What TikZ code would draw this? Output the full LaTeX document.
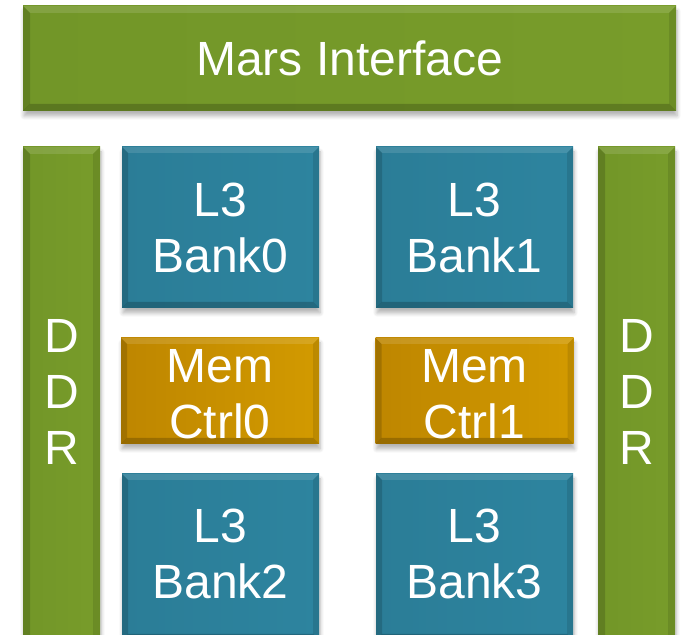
\documentclass[tikz,border=0pt]{standalone}
\usepackage{fontspec}
\setmainfont{Liberation Sans}
\usetikzlibrary{calc,shadows.blur}

\definecolor{gdark}{HTML}{729628}
\definecolor{gmid}{HTML}{86AE2B}
\definecolor{gedge}{HTML}{789C2A}
\definecolor{tdark}{HTML}{2B7D97}
\definecolor{tmid}{HTML}{2F94AF}
\definecolor{tedge}{HTML}{2D849F}
\definecolor{odark}{HTML}{BE8600}
\definecolor{omid}{HTML}{C38A00}
\definecolor{oedge}{HTML}{D29A00}

\tikzset{
  tile/.style={draw=none, inner sep=0pt, outer sep=0pt, shading=axis,
    blur shadow={shadow xshift=1pt, shadow yshift=-5pt,
      shadow blur radius=4pt, shadow blur steps=6, shadow opacity=30}},
  greenbar/.style={tile, left color=gdark, middle color=gmid, right color=gedge},
  tealbox/.style={tile, left color=tdark, middle color=tmid, right color=tedge},
  ochrebox/.style={tile, left color=odark, middle color=omid, right color=oedge},
  caption/.style={text=white, align=center, inner sep=0pt,
    font=\fontsize{48}{56}\selectfont},
}

% bevelled rim of a tile: lit top edge, shaded sides and bottom
\newcommand\bevelrim[2]{%
  \fill[white,opacity=.12] (#1.north west) -- (#1.north east) -- ++(-#2,-#2)
    -- ($(#1.north west)+(#2,-#2)$) -- cycle;
  \fill[black,opacity=.15] (#1.north west) -- (#1.south west) -- ++(#2,#2)
    -- ($(#1.north west)+(#2,-#2)$) -- cycle;
  \fill[black,opacity=.10] (#1.north east) -- (#1.south east) -- ++(-#2,#2)
    -- ($(#1.north east)+(-#2,-#2)$) -- cycle;
  \fill[black,opacity=.20] (#1.south west) -- (#1.south east) -- ++(-#2,#2)
    -- ($(#1.south west)+(#2,#2)$) -- cycle;
}

\begin{document}
\begin{tikzpicture}[x=1pt,y=1pt]
  \useasboundingbox (0,0) rectangle (681,635);
  \clip (0,0) rectangle (681,635);

  % tiles
  \node[greenbar, minimum width=653pt, minimum height=105pt] (mars) at (349.5,576.5) {};
  \node[greenbar, minimum width=77pt, minimum height=503pt] (ddrL) at (61.5,236.5) {};
  \node[greenbar, minimum width=77pt, minimum height=503pt] (ddrR) at (636.5,236.5) {};
  \node[tealbox, minimum width=197pt, minimum height=161pt] (bank0) at (220.5,407.5) {};
  \node[tealbox, minimum width=197pt, minimum height=161pt] (bank1) at (474.5,407.5) {};
  \node[ochrebox, minimum width=198pt, minimum height=106pt] (ctrl0) at (220,244) {};
  \node[ochrebox, minimum width=198pt, minimum height=106pt] (ctrl1) at (474.5,244) {};
  \node[tealbox, minimum width=197pt, minimum height=166pt] (bank2) at (220.5,78) {};
  \node[tealbox, minimum width=197pt, minimum height=166pt] (bank3) at (474.5,78) {};

  \foreach \t in {mars,ddrL,ddrR} {\bevelrim{\t}{7}}
  \foreach \t in {bank0,bank1,bank2,bank3,ctrl0,ctrl1} {\bevelrim{\t}{6}}

  % labels
  \node[caption] (marsT) at (mars.center) {Mars Interface};
  \node[caption] (ddrLT) at (61.5,243) {D\\D\\R};
  \node[caption] (ddrRT) at (636.5,243) {D\\D\\R};
  \node[caption] (bank0T) at (bank0.center) {L3\\Bank0};
  \node[caption] (bank1T) at (bank1.center) {L3\\Bank1};
  \node[caption] (ctrl0T) at ($(ctrl0.center)+(0,-3)$) {Mem\\Ctrl0};
  \node[caption] (ctrl1T) at ($(ctrl1.center)+(0,-3)$) {Mem\\Ctrl1};
  \node[caption] (bank2T) at (220.5,81) {L3\\Bank2};
  \node[caption] (bank3T) at (474.5,81) {L3\\Bank3};
\end{tikzpicture}
\end{document}
